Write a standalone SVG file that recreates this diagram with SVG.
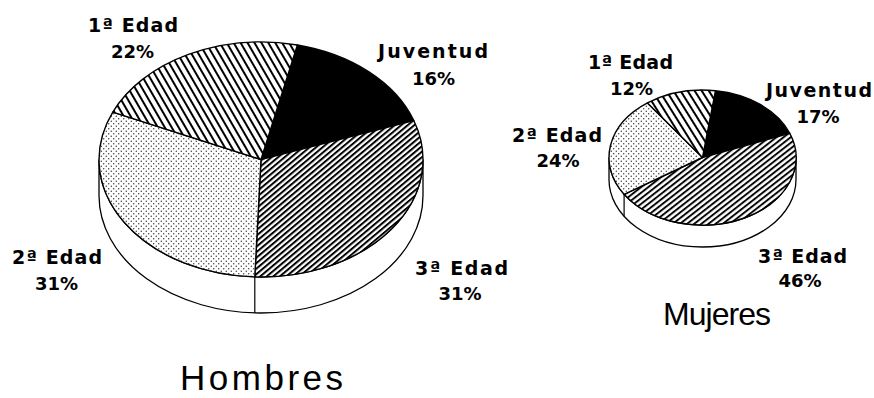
<svg xmlns="http://www.w3.org/2000/svg" width="874" height="398" viewBox="0 0 874 398">
<defs>
<pattern id="hatchBack" patternUnits="userSpaceOnUse" width="6" height="10" patternTransform="rotate(-30)">
<rect width="6" height="10" fill="#fff"/>
<line x1="1" y1="0" x2="1" y2="10" stroke="#000" stroke-width="2"/>
</pattern>
<pattern id="hatchBackS" patternUnits="userSpaceOnUse" width="6" height="10" patternTransform="rotate(-32)">
<rect width="6" height="10" fill="#fff"/>
<line x1="1" y1="0" x2="1" y2="10" stroke="#000" stroke-width="2"/>
</pattern>
<pattern id="hatchFwd" patternUnits="userSpaceOnUse" width="10" height="4.2" patternTransform="rotate(-40)">
<rect width="10" height="4.2" fill="#fff"/>
<line x1="0" y1="1" x2="10" y2="1" stroke="#000" stroke-width="2"/>
</pattern>
<pattern id="hatchFwdS" patternUnits="userSpaceOnUse" width="10" height="4.4" patternTransform="rotate(-38)">
<rect width="10" height="4.4" fill="#fff"/>
<line x1="0" y1="1" x2="10" y2="1" stroke="#000" stroke-width="1.9"/>
</pattern>
<pattern id="dots" patternUnits="userSpaceOnUse" width="5" height="5">
<rect width="5" height="5" fill="#fff"/>
<circle cx="1.25" cy="1.25" r="0.65" fill="#222"/>
<circle cx="3.75" cy="3.75" r="0.65" fill="#222"/>
</pattern>
</defs>
<style>
.lbl{font-family:"DejaVu Sans","Liberation Sans",sans-serif;font-weight:bold;font-size:19px;fill:#000}
.num{font-family:"DejaVu Sans","Liberation Sans",sans-serif;font-weight:bold;font-size:18px;fill:#000;text-anchor:middle}
.ttl{font-family:"Liberation Sans",Arial,sans-serif;font-size:35px;fill:#000}
.side{fill:#fff;stroke:#000;stroke-width:1.3}
.sl{stroke:#000;stroke-width:1.4;stroke-linejoin:round}
.edge{fill:none;stroke:#000;stroke-width:1.2}
</style>

<g id="pie-hombres">
<path class="side" d="M99,159.5 A162,117.5 0 0 0 423,159.5 L423,195.5 A162,117.5 0 0 1 99,195.5 Z"/>
<line class="edge" x1="254.8" y1="276.9" x2="254.8" y2="312.9"/>
<g id="h-juventud">
<path class="sl" fill="#000" d="M261,159.5 L297.4,45 A162,117.5 0 0 1 413.8,120.5 Z"/>
<text class="lbl" x="378" y="58" textLength="110" lengthAdjust="spacing">Juventud</text>
<text class="num" x="433.5" y="85">16%</text>
</g>
<g id="h-edad3">
<path class="sl" fill="url(#hatchFwd)" d="M261,159.5 L413.8,120.5 A162,117.5 0 0 1 254.8,276.9 Z"/>
<text class="lbl" x="415" y="275" textLength="93" lengthAdjust="spacing">3ª Edad</text>
<text class="num" x="460" y="300">31%</text>
</g>
<g id="h-edad2">
<path class="sl" fill="url(#dots)" d="M261,159.5 L254.8,276.9 A162,117.5 0 0 1 112.8,112.1 Z"/>
<text class="lbl" x="12" y="264" textLength="90" lengthAdjust="spacing">2ª Edad</text>
<text class="num" x="56.5" y="290">31%</text>
</g>
<g id="h-edad1">
<path class="sl" fill="url(#hatchBack)" d="M261,159.5 L112.8,112.1 A162,117.5 0 0 1 297.4,45 Z"/>
<text class="lbl" x="88" y="32" textLength="90" lengthAdjust="spacing">1ª Edad</text>
<text class="num" x="132.5" y="58">22%</text>
</g>
<text id="t-hombres" class="ttl" x="180" y="390" textLength="163" lengthAdjust="spacing">Hombres</text>
</g>

<g id="pie-mujeres">
<path class="side" d="M609,157.5 A93.5,67.5 0 0 0 796,157.5 L796,179.5 A93.5,67.5 0 0 1 609,179.5 Z"/>
<line class="edge" x1="624.1" y1="194.3" x2="624.1" y2="216.3"/>
<g id="m-juventud">
<path class="sl" fill="#000" d="M702.5,157.5 L715.5,90.7 A93.5,67.5 0 0 1 789.8,133.3 Z"/>
<text class="lbl" x="766" y="97" textLength="106" lengthAdjust="spacing">Juventud</text>
<text class="num" x="818" y="123">17%</text>
</g>
<g id="m-edad3">
<path class="sl" fill="url(#hatchFwdS)" d="M702.5,157.5 L789.8,133.3 A93.5,67.5 0 0 1 624.1,194.3 Z"/>
<text class="lbl" x="758" y="263" textLength="89" lengthAdjust="spacing">3ª Edad</text>
<text class="num" x="800" y="287">46%</text>
</g>
<g id="m-edad2">
<path class="sl" fill="url(#dots)" d="M702.5,157.5 L624.1,194.3 A93.5,67.5 0 0 1 647.5,102.9 Z"/>
<text class="lbl" x="512" y="142" textLength="90" lengthAdjust="spacing">2ª Edad</text>
<text class="num" x="558" y="167">24%</text>
</g>
<g id="m-edad1">
<path class="sl" fill="url(#hatchBackS)" d="M702.5,157.5 L647.5,102.9 A93.5,67.5 0 0 1 715.5,90.7 Z"/>
<text class="lbl" x="588" y="69" textLength="85" lengthAdjust="spacing">1ª Edad</text>
<text class="num" x="631.5" y="95">12%</text>
</g>
<text id="t-mujeres" class="ttl" x="663" y="325" textLength="108" lengthAdjust="spacing" style="font-size:32px">Mujeres</text>
</g>
</svg>
